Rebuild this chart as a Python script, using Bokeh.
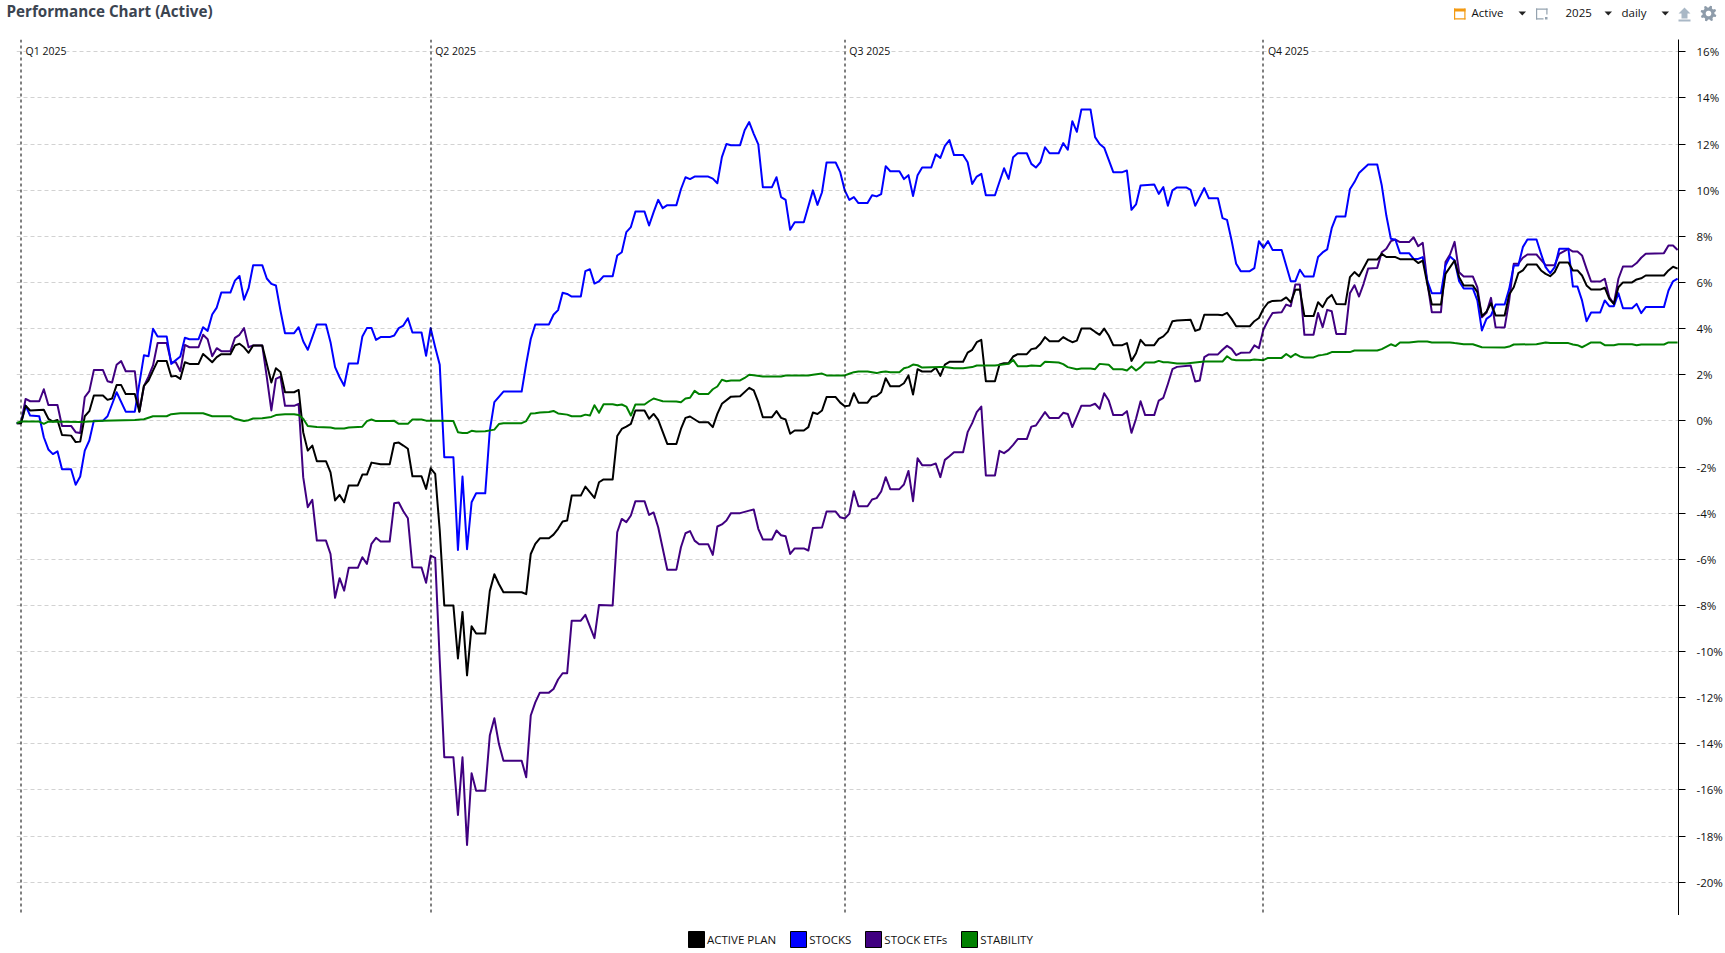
import math
import numpy as np
from bokeh.core.properties import value
from bokeh.embed import file_html
from bokeh.resources import INLINE
from bokeh.plotting import figure
from bokeh.models import (FixedTicker, Label, Legend, LegendItem,
                          PrintfTickFormatter, Range1d, Span)

TITLE = "Performance Chart (Active)"
QUARTER_DAYS = [0, 90, 181, 273]
QUARTER_LABELS = ["Q1 2025", "Q2 2025", "Q3 2025", "Q4 2025"]
Y_TICKS = list(range(-20, 18, 2))

# (day of 2025, percent) vertices; flat stretches are weekends
STOCKS = [(-1,-0.09),(0,-0.09),(1,0.66),(2,0.23),(4,0.2),(5,-0.71),(6,-1.24),(7,-1.44),(8,-1.32),(9,-2.1),(11,-2.1),(12,-2.77),(13,-2.41),(14,-1.29),(15,-0.85),(16,0.01),(18,0.01),(19,0.2),(21,1.24),(23,0.4),(25,0.4),(27,2.84),(28,2.8),(29,3.99),(30,3.66),(32,3.66),(33,2.47),(35,2.79),(36,3.6),(37,3.54),(39,3.54),(40,4.06),(41,3.9),(42,4.61),(43,4.91),(44,5.56),(46,5.56),(47,6.08),(48,6.28),(49,5.25),(50,5.75),(51,6.75),(53,6.75),(54,6.17),(55,5.94),(56,5.87),(57,4.78),(58,3.8),(60,3.8),(61,4.06),(62,3.45),(63,3.08),(65,4.18),(67,4.18),(68,3.41),(69,2.33),(70,1.89),(71,1.52),(72,2.49),(74,2.49),(75,3.66),(76,4.02),(77,4.03),(78,3.51),(79,3.63),(81,3.63),(82,3.7),(83,4.02),(84,4.13),(85,4.45),(86,3.83),(88,3.83),(89,2.82),(90,4.02),(91,3.19),(92,2.43),
(93,-1.58),(95,-1.58),(96,-5.6),(97,-2.41),(98,-5.56),(99,-3.53),(100,-3.14),(102,-3.14),(103,-0.42),(104,0.81),(106,1.27),(110,1.27),(111,2.47),(112,3.55),(113,4.18),(116,4.18),(117,4.6),(118,4.8),(119,5.55),(120,5.5),(121,5.39),(123,5.39),(124,6.49),(125,6.57),(126,5.95),(127,6.05),(128,6.27),(130,6.27),(131,7.17),(132,7.31),(133,8.18),(134,8.4),(135,9.07),(137,9.07),(138,8.47),(139,9.05),(140,9.58),(141,9.22),(142,9.35),(144,9.35),(145,10.04),(146,10.56),(147,10.48),(148,10.59),(151,10.59),(152,10.5),(153,10.3),(154,11.43),(155,12.0),(156,11.95),(158,11.95),(159,12.6),(160,12.95),(161,12.44),(162,11.98),(163,10.13),(165,10.13),(166,10.56),(167,9.7),(168,9.58),(169,8.28),(170,8.61),(172,8.61),(174,9.99),(175,9.36),(176,9.91),(177,11.2),(179,11.2),(180,10.78),(181,9.99),(182,9.58),(183,9.7),(184,9.44),(186,9.44),(187,9.78),(188,9.73),(189,9.83),(190,11.04),(191,10.82),(193,10.82),(194,10.48),(195,10.65),(196,9.75),(197,10.65),(198,10.98),(200,10.98),(201,11.55),(202,11.4),(203,11.92),(204,12.17),(205,11.52),(207,11.52),(208,11.21),(209,10.27),(210,10.59),(211,10.71),(212,9.78),(214,9.78),(216,10.95),(217,10.49),(218,11.43),(219,11.6),(221,11.6),(222,11.14),(223,10.98),(224,11.21),(225,11.86),(226,11.6),(228,11.6),(229,12.04),(230,11.75),(231,12.99),(232,12.53),(233,13.5),(235,13.5),(236,12.3),(237,12.0),(238,11.84),(239,11.31),(240,10.78),(242,10.78),(243,10.85),(244,9.15),(245,9.38),(246,10.2),(249,10.25),(250,9.84),(251,10.13),(252,9.32),(253,9.99),(254,10.12),(256,10.12),(257,10.01),(258,9.32),(260,10.09),(261,9.65),(263,9.65),(264,8.79),(265,8.71),(266,7.82),(267,6.81),(268,6.49),(270,6.49),(271,6.62),(272,7.79),(273,7.5),(274,7.79),(275,7.41),(277,7.41),(279,6.05),(280,6.05),(281,6.55),(282,6.26),(284,6.26),(285,7.1),(286,7.3),(287,7.43),(288,8.35),(289,8.86),(291,8.86),(292,10.04),(293,10.35),(294,10.74),(296,11.11),(298,11.11),(299,10.2),(300,8.9),(301,7.89),(302,7.85),(303,7.27),(305,7.27),(306,7.02),(307,7.02),(308,7.1),(309,6.08),(310,5.53),(312,5.53),(313,6.73),(314,7.12),(315,6.95),(316,6.05),(317,5.74),(319,5.74),(320,5.22),(321,3.92),(322,4.42),(323,4.57),(324,5.04),(326,5.04),(327,5.72),(328,6.73),(329,6.73),(330,7.53),(331,7.86),(333,7.86),(334,7.24),(335,6.66),(336,6.4),(337,6.66),(338,7.46),(340,7.46),(341,5.82),(342,5.82),(343,5.22),(344,4.32),(345,4.7),(347,4.7),(348,5.22),(349,4.97),(350,4.97),(351,5.53),(352,4.88),(354,4.88),(355,5.07),(356,4.67),(357,4.93),(361,4.93),(362,5.65),(363,6.05),(364,6.16)]

ACTIVE_PLAN = [(-1,-0.1),(0,-0.1),(1,0.66),(2,0.45),(5,0.48),(6,0.09),(7,-0.03),(8,0.04),(9,-0.61),(11,-0.64),(12,-0.92),(13,-0.9),(14,0.2),(15,0.42),(16,1.1),(18,1.1),(19,0.91),(20,0.97),(21,1.55),(22,1.55),(23,1.16),(25,1.16),(26,0.4),(27,1.52),(28,1.75),(29,2.18),(30,2.59),(32,2.59),(33,1.92),(34,1.95),(35,1.82),(36,2.54),(37,2.47),(39,2.47),(40,2.9),(41,2.72),(42,2.54),(43,2.76),(44,2.89),(46,2.89),(47,3.27),(48,3.34),(49,3.19),(50,2.95),(51,3.27),(53,3.27),(54,2.47),(55,1.66),(56,2.28),(57,2.12),(58,1.24),(60,1.24),(61,1.34),(62,-0.49),(63,-1.29),(64,-1.07),(65,-1.75),(67,-1.75),(68,-2.23),(69,-3.45),(70,-3.21),(71,-3.53),(72,-2.8),(74,-2.8),(75,-2.33),(76,-2.33),(77,-1.81),(79,-1.88),(81,-1.88),(82,-0.97),(83,-0.94),(84,-1.07),(85,-1.21),(86,-2.4),(88,-2.4),(89,-2.95),(90,-2.06),(91,-2.3),(92,-4.75),(93,-8.0),(95,-8.0),(96,-10.3),(97,-8.28),(98,-11.03),(99,-8.9),(100,-9.22),(102,-9.22),(103,-7.38),(104,-6.65),(105,-7.07),(106,-7.43),(110,-7.43),(111,-7.51),(112,-5.77),(113,-5.33),(114,-5.09),(116,-5.09),(117,-4.93),(118,-4.68),(119,-4.36),(120,-4.32),(121,-3.24),(123,-3.24),(124,-2.85),(126,-3.34),(127,-2.66),(128,-2.54),(130,-2.54),(131,-0.66),(132,-0.35),(133,-0.25),(134,-0.13),(135,0.45),(137,0.45),(138,0.09),(139,0.3),(140,0.04),(142,-1.0),(144,-1.0),(145,-0.35),(146,0.13),(147,0.19),(149,-0.06),(151,-0.06),(152,-0.27),(153,0.3),(154,0.74),(156,1.05),(158,1.07),(160,1.43),(161,1.32),(162,0.81),(163,0.16),(165,0.16),(166,0.42),(167,0.13),(168,0.06),(169,-0.56),(170,-0.42),(172,-0.42),(173,-0.27),(174,0.36),(175,0.3),(176,0.45),(177,1.03),(179,1.03),(180,0.79),(181,0.63),(182,0.66),(183,1.2),(184,0.79),(186,0.79),(187,1.05),(188,1.08),(189,1.24),(190,1.85),(191,1.5),(193,1.5),(194,1.63),(195,1.97),(196,1.14),(197,2.24),(198,2.14),(200,2.14),(201,2.3),(202,1.95),(203,2.44),(204,2.56),(207,2.56),(208,2.96),(209,3.08),(210,3.41),(211,3.51),(212,1.72),(214,1.72),(215,2.44),(216,2.5),(217,2.5),(218,2.79),(219,2.89),(221,2.89),(222,3.11),(223,3.15),(224,3.34),(225,3.63),(226,3.45),(228,3.45),(229,3.63),(230,3.51),(231,3.41),(232,3.48),(233,4.0),(235,4.0),(236,3.86),(237,3.73),(238,4.0),(239,3.7),(240,3.28),(242,3.28),(243,3.37),(244,2.6),(245,2.93),(246,3.51),(247,3.28),(249,3.28),(250,3.55),(251,3.66),(252,3.87),(253,4.32),(254,4.35),(257,4.38),(258,3.9),(259,3.97),(260,4.6),(261,4.6),(263,4.6),(264,4.58),(265,4.68),(266,4.42),(267,4.1),(270,4.1),(271,4.32),(272,4.46),(273,4.86),(274,5.12),(275,5.2),(277,5.22),(278,5.35),(279,5.14),(280,5.68),(281,5.69),(282,4.54),(284,4.54),(285,5.14),(286,4.93),(287,5.29),(288,5.46),(289,5.07),(291,5.05),(292,6.23),(293,6.45),(294,6.27),(295,6.63),(296,6.99),(298,6.99),(299,7.24),(300,7.1),(302,7.1),(303,7.01),(306,7.01),(307,6.84),(308,6.95),(309,5.94),(310,5.04),(312,5.04),(313,6.37),(315,6.95),(316,6.23),(317,5.87),(319,5.87),(320,5.58),(321,4.54),(322,4.73),(323,5.1),(324,4.57),(326,4.57),(327,5.48),(328,5.79),(329,6.4),(330,6.52),(331,6.78),(333,6.78),(334,6.52),(335,6.37),(336,6.27),(337,6.45),(338,6.86),(340,6.86),(341,6.52),(342,6.52),(343,6.3),(344,5.87),(345,5.69),(347,5.69),(348,5.77),(349,5.29),(350,5.07),(351,5.79),(352,6.0),(354,6.0),(355,6.13),(356,6.18),(357,6.3),(361,6.3),(362,6.52),(363,6.68),(364,6.6)]

STOCK_ETFS = [(-1,-0.1),(0,-0.1),(1,0.95),(2,0.85),(4,0.85),(5,1.37),(6,0.69),(8,0.69),(9,-0.22),(11,-0.22),(12,-0.49),(13,-0.53),(14,1.03),(15,1.29),(16,2.2),(18,2.2),(19,1.72),(20,1.66),(21,2.43),(22,2.59),(23,2.15),(25,2.15),(26,0.4),(27,1.5),(28,1.92),(29,2.4),(30,3.37),(32,3.37),(33,2.54),(34,2.54),(35,2.15),(36,3.29),(37,3.19),(39,3.19),(40,3.73),(41,3.54),(42,2.8),(43,3.15),(44,3.02),(46,3.02),(47,3.6),(48,3.73),(49,4.02),(50,3.19),(51,3.27),(53,3.27),(54,1.9),(55,0.45),(56,1.82),(57,1.92),(58,0.65),(60,0.65),(61,0.74),(62,-2.44),(63,-3.74),(64,-3.42),(65,-5.19),(67,-5.19),(68,-5.77),(69,-7.67),(70,-6.82),(71,-7.36),(72,-6.37),(74,-6.37),(75,-5.91),(76,-6.2),(77,-5.33),(78,-5.07),(79,-5.23),(81,-5.23),(82,-3.57),(83,-3.54),(84,-3.92),(85,-4.22),(86,-6.34),(88,-6.36),(89,-7.02),(90,-5.84),(91,-5.94),(92,-10.39),(93,-14.58),(95,-14.58),(96,-17.08),(97,-14.58),(98,-18.38),(99,-15.27),(100,-16.03),(102,-16.03),(103,-13.64),(104,-12.89),(105,-14.0),(106,-14.73),(110,-14.73),(111,-15.45),(112,-12.77),(113,-12.2),(114,-11.78),(116,-11.78),(117,-11.62),(118,-11.21),(119,-10.94),(120,-10.94),(121,-8.66),(123,-8.66),(124,-8.41),(126,-9.42),(127,-7.98),(130,-8.0),(131,-4.83),(132,-4.25),(133,-4.39),(134,-4.1),(135,-3.48),(137,-3.48),(138,-4.08),(139,-3.97),(140,-4.61),(142,-6.45),(144,-6.45),(145,-5.48),(146,-4.87),(147,-4.78),(148,-5.19),(149,-5.35),(151,-5.35),(152,-5.81),(153,-4.58),(154,-4.49),(155,-4.32),(156,-4.0),(158,-4.0),(160,-3.89),(161,-3.84),(162,-4.68),(163,-5.14),(165,-5.14),(166,-4.75),(167,-4.96),(168,-5.0),(169,-5.77),(170,-5.53),(172,-5.53),(173,-5.62),(174,-4.64),(176,-4.62),(177,-3.93),(179,-3.93),(180,-4.18),(181,-4.23),(182,-4.03),(183,-3.05),(184,-3.7),(186,-3.7),(187,-3.41),(188,-3.35),(189,-3.06),(190,-2.44),(191,-2.96),(193,-2.96),(194,-2.76),(195,-2.17),(196,-3.48),(197,-1.62),(198,-1.92),(200,-1.92),(201,-1.85),(202,-2.44),(203,-1.69),(204,-1.53),(205,-1.36),(207,-1.36),(208,-0.49),(209,-0.1),(210,0.38),(211,0.62),(212,-2.37),(214,-2.37),(215,-1.3),(216,-1.4),(217,-1.26),(218,-1.04),(219,-0.79),(221,-0.79),(222,-0.25),(223,-0.2),(224,0.09),(225,0.38),(226,0.12),(228,0.12),(229,0.35),(230,0.3),(231,-0.27),(233,0.66),(235,0.66),(236,0.74),(237,0.52),(238,1.2),(239,0.88),(240,0.25),(242,0.25),(243,0.42),(244,-0.52),(245,0.09),(246,0.85),(247,0.25),(249,0.25),(250,0.88),(251,1.0),(252,1.6),(253,2.24),(254,2.34),(257,2.4),(258,1.71),(259,1.75),(260,2.76),(261,2.88),(263,2.88),(264,3.08),(265,3.25),(266,3.12),(267,2.85),(268,2.95),(270,2.96),(271,3.27),(272,3.15),(273,3.96),(274,4.35),(275,4.68),(277,4.71),(278,5.04),(279,4.97),(280,5.91),(281,5.91),(282,3.73),(284,3.73),(285,4.68),(286,4.06),(287,4.81),(288,4.75),(289,3.77),(291,3.76),(292,5.53),(293,5.88),(294,5.39),(295,5.94),(296,6.6),(298,6.63),(299,7.31),(300,7.46),(301,7.79),(302,7.86),(303,7.75),(305,7.75),(306,7.96),(307,7.57),(308,7.72),(309,6.01),(310,4.71),(312,4.71),(313,6.88),(314,7.21),(315,7.76),(316,6.44),(317,6.26),(319,6.26),(320,5.79),(321,4.49),(322,4.68),(323,5.33),(324,4.06),(326,4.05),(327,5.22),(328,6.81),(329,6.81),(330,7.07),(331,7.21),(333,7.21),(334,6.98),(335,6.75),(337,6.75),(338,7.24),(340,7.46),(341,7.34),(342,7.34),(343,7.17),(344,6.59),(345,6.04),(347,6.04),(348,6.16),(349,5.36),(350,5.07),(351,6.16),(352,6.69),(354,6.69),(355,6.84),(356,7.07),(357,7.24),(361,7.27),(362,7.6),(363,7.6),(364,7.41)]

STABILITY = [(-1,-0.09),(0,-0.03),(4,-0.03),(5,-0.13),(6,-0.03),(13,-0.05),(18,0.0),(25,0.04),(27,0.07),(29,0.2),(32,0.2),(33,0.29),(35,0.33),(40,0.33),(42,0.2),(46,0.2),(47,0.09),(49,-0.01),(50,0.03),(51,0.1),(53,0.11),(55,0.17),(56,0.25),(58,0.29),(60,0.29),(61,0.25),(62,0.09),(63,-0.22),(65,-0.27),(68,-0.29),(69,-0.33),(71,-0.33),(72,-0.29),(75,-0.25),(76,-0.01),(77,0.06),(78,-0.01),(81,-0.01),(82,0.0),(83,-0.13),(84,-0.12),(85,-0.13),(86,0.06),(88,0.06),(89,0.01),(92,0.0),(95,-0.01),(96,-0.49),(97,-0.53),(98,-0.53),(99,-0.43),(100,-0.46),(102,-0.45),(104,-0.38),(105,-0.14),(106,-0.1),(110,-0.1),(111,-0.01),(112,0.32),(113,0.33),(114,0.36),(116,0.38),(117,0.43),(118,0.32),(120,0.27),(121,0.2),(123,0.2),(124,0.27),(125,0.23),(126,0.68),(127,0.35),(128,0.72),(130,0.72),(131,0.68),(132,0.71),(133,0.62),(134,0.23),(135,0.71),(137,0.71),(138,0.85),(139,0.97),(140,0.91),(141,0.85),(144,0.84),(145,0.81),(146,0.97),(147,1.0),(148,1.3),(149,1.16),(151,1.16),(152,1.37),(153,1.49),(154,1.78),(155,1.72),(156,1.75),(158,1.75),(159,1.86),(160,2.0),(161,1.98),(163,1.92),(167,1.92),(168,1.97),(173,1.97),(174,2.0),(176,2.05),(177,1.97),(181,1.97),(182,2.04),(183,2.11),(184,2.14),(186,2.14),(188,2.07),(189,2.12),(190,2.14),(191,2.11),(193,2.11),(194,2.28),(195,2.33),(196,2.44),(197,2.41),(198,2.31),(202,2.33),(203,2.33),(205,2.28),(207,2.28),(209,2.33),(210,2.4),(214,2.4),(217,2.47),(218,2.64),(219,2.37),(221,2.37),(222,2.4),(224,2.38),(225,2.56),(228,2.53),(229,2.46),(230,2.33),(232,2.24),(233,2.27),(235,2.27),(236,2.24),(237,2.47),(239,2.43),(240,2.24),(242,2.24),(243,2.18),(244,2.36),(245,2.18),(246,2.33),(247,2.53),(249,2.53),(250,2.6),(251,2.54),(252,2.54),(254,2.49),(256,2.49),(258,2.53),(260,2.57),(264,2.57),(265,2.8),(266,2.66),(267,2.63),(270,2.63),(271,2.66),(273,2.63),(274,2.73),(277,2.73),(278,2.9),(279,2.76),(280,2.9),(281,2.79),(282,2.75),(284,2.75),(285,2.83),(286,2.86),(287,2.9),(288,2.98),(292,2.98),(293,3.05),(298,3.05),(299,3.11),(301,3.32),(302,3.24),(303,3.4),(305,3.4),(307,3.44),(309,3.44),(310,3.4),(314,3.4),(315,3.37),(317,3.32),(319,3.32),(321,3.19),(326,3.18),(327,3.22),(328,3.31),(333,3.32),(335,3.4),(336,3.37),(340,3.37),(341,3.31),(342,3.28),(343,3.19),(344,3.29),(345,3.4),(347,3.4),(348,3.28),(350,3.28),(351,3.32),(354,3.32),(355,3.28),(356,3.31),(361,3.31),(362,3.4),(364,3.4)]

SERIES_COLORS = {"ACTIVE PLAN": "#000000", "STOCKS": "#0000ff", "STOCK ETFs": "#400080", "STABILITY": "#008000"}

FONT = "Open Sans"
X0, X1, HEADER_H, FRAME_H, FOOTER_H = 16, 1678, 39, 876, 38
D0, D1, V0, V1 = -1.0, 364.2, -21.44, 16.53


def strip(height, top):
    """A chart-less band whose data units are the page's own pixels."""
    f = figure(width=1725, height=height, output_backend="svg", toolbar_location=None,
               x_axis_location=None, y_axis_location=None,
               x_range=Range1d(0, 1725), y_range=Range1d(height, 0),
               min_border=0, outline_line_color=None, background_fill_color="white", border_fill_color="white")
    f.grid.visible = False
    f.styles = {"position": "absolute", "left": "0px", "top": f"{top}px"}
    return f


# ---------- header ----------
header = strip(HEADER_H, 0)
header.text([6], [10], text=[TITLE], text_font=value(FONT), text_font_size="15.2px", text_font_style="bold",
            text_color="#3b4450", text_baseline="middle")
for x, t in [(1471, "Active"), (1565, "2025"), (1621, "daily")]:
    header.text([x], [12], text=[t], text_font=value(FONT), text_font_size="11.5px",
                text_color="#111111", text_baseline="middle")

def poly(xs, ys, color):
    header.patch(list(xs), list(ys), fill_color=color, line_color=None)

def rect(l, r, t, b, color):
    poly([l, r, r, l], [t, t, b, b], color)

for x in (1518, 1604, 1661):
    poly([x, x + 7.5, x + 3.75], [11, 11, 15], "#222222")
ORANGE, GREY, LIGHT = "#f39a12", "#95a3b0", "#a9b8c6"
rect(1453.5, 1465, 8, 11, ORANGE); rect(1453.5, 1454.7, 8, 19, ORANGE)
rect(1463.8, 1465, 8, 19, ORANGE); rect(1453.5, 1465, 17.8, 19, ORANGE)
rect(1535.5, 1547, 8, 9.2, GREY); rect(1535.5, 1536.7, 8, 19, GREY)
rect(1545.8, 1547, 8, 14, GREY); rect(1535.5, 1543, 17.8, 19, GREY); rect(1544.5, 1547, 16.5, 19, GREY)
poly([1684, 1690, 1687, 1687, 1681, 1681, 1678], [7, 13, 13, 18, 18, 13, 13], LIGHT)
rect(1678, 1690, 19, 21, LIGHT)
ang = np.linspace(0, 2 * np.pi, 49)[:-1]
rad = np.where((np.arange(48) % 6) < 3, 8.0, 6.0)
poly(1708 + rad * np.cos(ang + 0.2), 13 + rad * np.sin(ang + 0.2), "#8e9caa")
poly(1708 + 2.8 * np.cos(ang), 13 + 2.8 * np.sin(ang), "white")

# ---------- chart ----------
p = figure(width=1725, height=FRAME_H, output_backend="svg", toolbar_location=None,
           x_axis_location=None, y_axis_location="right",
           x_range=Range1d(D0, D1), y_range=Range1d(V0, V1),
           min_border_left=X0, min_border_right=1725 - X1, min_border_top=0, min_border_bottom=0,
           background_fill_color="white", border_fill_color="white", outline_line_color=None)
p.styles = {"position": "absolute", "left": "0px", "top": f"{HEADER_H}px"}

p.xgrid.visible = False
p.ygrid.grid_line_color = "#d2d2d2"
p.ygrid.grid_line_dash = "4 3"
p.ygrid.grid_line_width = 1

ax = p.yaxis[0]
ax.ticker = FixedTicker(ticks=Y_TICKS)
ax.formatter = PrintfTickFormatter(format="%d%%")
ax.axis_line_color = "black"
ax.major_tick_line_color = "black"
ax.major_tick_in = 0
ax.major_tick_out = 7
ax.minor_tick_line_color = None
ax.major_label_text_font = FONT
ax.major_label_text_font_size = "11.5px"
ax.major_label_text_color = "#111111"
ax.major_label_standoff = 11

for d in QUARTER_DAYS:
    # snap the 1px dashed rule onto a pixel so that it stays crisp and black
    px = X0 + (d - D0) * (X1 - X0) / (D1 - D0)
    loc = D0 + (math.floor(px) + 0.5 - X0) * (D1 - D0) / (X1 - X0)
    p.add_layout(Span(location=loc, dimension="height", line_color="black", line_dash="3 3", line_width=1))
for d, t in zip(QUARTER_DAYS, QUARTER_LABELS):
    p.add_layout(Label(x=d, y=16, text=t, x_offset=4.5, y_offset=1, text_font=FONT, text_font_size="10.5px",
                       text_baseline="middle", text_color="#111111", background_fill_color="white"))

for name, data in [("STOCK ETFs", STOCK_ETFS), ("STOCKS", STOCKS), ("ACTIVE PLAN", ACTIVE_PLAN), ("STABILITY", STABILITY)]:
    days, vals = zip(*data)
    p.line(list(days), list(vals), line_color=SERIES_COLORS[name], line_width=2, line_join="round")

# ---------- legend ----------
footer = strip(FOOTER_H, HEADER_H + FRAME_H)
items = []
for name, col in SERIES_COLORS.items():
    # one off-canvas quad gives the legend a glyph to draw its swatch from
    r = footer.quad(left=[-100], right=[-90], top=[-100], bottom=[-90], fill_color=col, line_color="black")
    items.append(LegendItem(label=name, renderers=[r], index=0))
leg = Legend(items=items, orientation="horizontal", location=(686, 4), glyph_width=20, glyph_height=20,
             label_standoff=1, spacing=12, padding=0, margin=0, border_line_color=None,
             background_fill_color=None, background_fill_alpha=0, label_text_font=FONT,
             label_text_font_size="11.5px", label_text_color="#111111", label_height=16)
footer.add_layout(leg)

open("out.html", "w").write(file_html([header, p, footer], INLINE))
